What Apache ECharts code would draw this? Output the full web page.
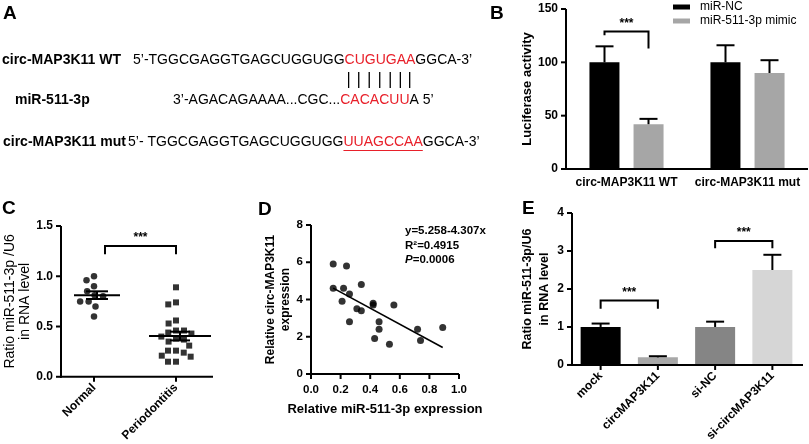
<!DOCTYPE html>
<html><head><meta charset="utf-8">
<script src="https://cdn.jsdelivr.net/npm/echarts@6/dist/echarts.min.js"></script>
<style>html,body{margin:0;padding:0;background:#fff}#c{width:809px;height:444px}</style>
</head><body><div id="c"></div>
<script>
// ---------------- DATA ----------------
const aLabels = ['circ-MAP3K11 WT', 'miR-511-3p', 'circ-MAP3K11 mut'];
const aPre = ['5’-TGGCGAGGTGAGCUGGUGG', '3’-AGACAGAAAA...CGC...', '5’- TGGCGAGGTGAGCUGGUGG'];
const aRed = ['CUGUGAA', 'CACACUU', 'UUAGCCAA'];
const aPost = ['GGCA-3’', 'A 5’', 'GGCA-3’'];

const bCategories = ['circ-MAP3K11 WT', 'circ-MAP3K11 mut'];
const bSeriesNames = ['miR-NC', 'miR-511-3p mimic'];
const bNC = [100, 100];
const bNCErrTop = [115, 116];
const bMimic = [42, 90];
const bMimicErrTop = [47, 102];
const bYTicks = [0, 50, 100, 150];

const cCategories = ['Normal', 'Periodontitis'];
const cNormal = [1.00, 0.96, 0.90, 0.85, 0.81, 0.80, 0.75, 0.75, 0.70, 0.60];
const cPerio = [0.89, 0.74, 0.72, 0.56, 0.53, 0.46, 0.46, 0.44, 0.43, 0.40, 0.38, 0.37, 0.35, 0.31, 0.26, 0.26, 0.24, 0.21, 0.20, 0.15, 0.15];
const cYTicks = [0, 0.5, 1.0, 1.5];

const dX = [0.15, 0.24, 0.15, 0.22, 0.26, 0.21, 0.34, 0.31, 0.34, 0.26, 0.42, 0.42, 0.56, 0.46, 0.46, 0.43, 0.53, 0.72, 0.74, 0.89];
const dY = [5.9, 5.8, 4.6, 4.6, 4.3, 3.9, 4.8, 3.5, 3.4, 2.8, 3.8, 3.7, 3.7, 2.8, 2.4, 1.9, 1.6, 2.4, 1.8, 2.5];
const dTrend = [[0.15, 4.61], [0.89, 1.42]];
const dStats = ['y=5.258-4.307x', 'R²=0.4915', '=0.0006'];
const dXTicks = [0, 0.2, 0.4, 0.6, 0.8, 1.0];
const dYTicks = [0, 2, 4, 6, 8];

const eCategories = ['mock', 'circMAP3K11', 'si-NC', 'si-circMAP3K11'];
const eValues = [1.0, 0.2, 1.0, 2.5];
const eErrTop = [1.09, 0.23, 1.14, 2.9];
const eYTicks = [0, 1, 2, 3, 4];

// ---------------- STYLE / LAYOUT ----------------
const FONT = '"Liberation Sans", Arial, Helvetica, sans-serif';
const RED = '#e8202a';
const AXIS_COLOR = '#000';
const bColors = ['#000000', '#a6a6a6'];
const eColors = ['#000000', '#a8a8a8', '#858585', '#d6d6d6'];
const gridRects = [[566, 9, 242, 160], [53, 226, 164, 152], [311, 225, 148, 149], [572, 213, 229, 153]];

function axisBase(extra) {
  const a = {
    axisLine: { show: false },
    axisTick: { show: false },
    axisLabel: { color: '#000', fontWeight: 'bold', fontSize: 12, fontFamily: FONT },
    splitLine: { show: false },
    nameTextStyle: { color: '#000', fontFamily: FONT }
  };
  for (const k in extra) {
    if (a[k] && typeof a[k] === 'object' && typeof extra[k] === 'object' && !Array.isArray(extra[k])) {
      a[k] = Object.assign({}, a[k], extra[k]);
    } else a[k] = extra[k];
  }
  return a;
}
function errRender(offset, capHalf) {
  return function (params, api) {
    const cat = api.value(0);
    const base = api.coord([cat, api.value(1)]);
    const top = api.coord([cat, api.value(2)]);
    const x = base[0] + offset;
    return { type: 'group', children: [
      { type: 'line', shape: { x1: x, y1: base[1], x2: x, y2: top[1] }, style: { stroke: '#000', lineWidth: 2 } },
      { type: 'line', shape: { x1: x - capHalf, y1: top[1], x2: x + capHalf, y2: top[1] }, style: { stroke: '#000', lineWidth: 2 } }
    ]};
  };
}
function meanSem(arr) {
  const n = arr.length;
  const m = arr.reduce((s, v) => s + v, 0) / n;
  const sd = Math.sqrt(arr.reduce((s, v) => s + (v - m) * (v - m), 0) / (n - 1));
  return [m, sd / Math.sqrt(n)];
}
const cStats = [[0].concat(meanSem(cNormal)), [1].concat(meanSem(cPerio))];
const meanHalf = [23, 31], semHalf = [11, 10];

// axis frame drawn by a custom series, using the grid's own coordinate system
// [yAxis x shift, x-axis right extension, y ticks, x ticks]
const axisFrames = [
  [0, 0, bYTicks, null],
  [8, -4, cYTicks, [0, 1]],
  [0, 0, dYTicks, dXTicks],
  [0, 2, eYTicks, [0, 1, 2, 3]]
];
function frameSeries(i) {
  const [sx, ext, yT, xT] = axisFrames[i];
  return {
    type: 'custom', xAxisIndex: i, yAxisIndex: i, z: 20, clip: false, silent: true,
    data: [[0]], encode: { x: [], y: [] },
    renderItem: function (params, api) {
      const cs = params.coordSys;
      const ax = cs.x + sx, top = cs.y, bot = cs.y + cs.height, right = cs.x + cs.width + ext;
      const st = { stroke: AXIS_COLOR, lineWidth: 2 };
      const ch = [
        { type: 'line', shape: { x1: ax, y1: top, x2: ax, y2: bot + 1 }, style: st },
        { type: 'line', shape: { x1: ax - 1, y1: bot, x2: right, y2: bot }, style: st }
      ];
      yT.forEach(v => {
        const y = api.coord([0, v])[1];
        ch.push({ type: 'line', shape: { x1: ax - 5, y1: y, x2: ax, y2: y }, style: st });
      });
      if (xT) xT.forEach(v => {
        const x = api.coord([v, 0])[0];
        ch.push({ type: 'line', shape: { x1: x, y1: bot, x2: x, y2: bot + 5 }, style: st });
      });
      return { type: 'group', children: ch };
    }
  };
}

const chart = echarts.init(document.getElementById('c'));
const option = {
  animation: false,
  backgroundColor: '#fff',
  textStyle: { fontFamily: FONT },
  legend: {
    data: bSeriesNames, orient: 'vertical', left: 673, top: 0, padding: 0,
    itemWidth: 17, itemHeight: 5, itemGap: 0, icon: 'rect',
    textStyle: { fontSize: 12, color: '#000', fontFamily: FONT, lineHeight: 14, padding: [0, 0, 0, 5] }
  },
  grid: gridRects.map(r => ({ left: r[0], top: r[1], width: r[2], height: r[3] })),
  xAxis: [
    axisBase({ type: 'category', gridIndex: 0, data: bCategories, axisLabel: { margin: 8, fontSize: 12, interval: 0 } }),
    axisBase({ type: 'category', gridIndex: 1, data: cCategories, jitter: 46, jitterOverlap: false, jitterMargin: 2,
      axisLabel: { rotate: 45, margin: 9, interval: 0 } }),
    axisBase({ type: 'value', gridIndex: 2, min: 0, max: 1, interval: 0.2,
      axisLabel: { formatter: v => v.toFixed(1), margin: 10, fontSize: 11.5 },
      name: 'Relative miR-511-3p expression', nameLocation: 'middle', nameGap: 29,
      nameTextStyle: { fontWeight: 'bold', fontSize: 13 } }),
    axisBase({ type: 'category', gridIndex: 3, data: eCategories, axisLabel: { rotate: 45, margin: 9, interval: 0 } })
  ],
  yAxis: [
    axisBase({ type: 'value', gridIndex: 0, min: 0, max: 150, interval: 50, axisLabel: { margin: 8 },
      name: 'Luciferase activity', nameLocation: 'middle', nameGap: 25,
      nameTextStyle: { fontWeight: 'bold', fontSize: 13 } }),
    axisBase({ type: 'value', gridIndex: 1, min: 0, max: 1.5, interval: 0.5, offset: -8,
      axisLabel: { formatter: v => v.toFixed(1), margin: 8 },
      name: 'Ratio miR-511-3p /U6\nin RNA level', nameLocation: 'middle', nameGap: 21,
      nameTextStyle: { fontSize: 14, lineHeight: 15 } }),
    axisBase({ type: 'value', gridIndex: 2, min: 0, max: 8, interval: 2, axisLabel: { margin: 8, fontSize: 11.5 },
      name: 'Relative circ-MAP3K11\nexpression', nameLocation: 'middle', nameGap: 13,
      nameTextStyle: { fontWeight: 'bold', fontSize: 12, lineHeight: 15 } }),
    axisBase({ type: 'value', gridIndex: 3, min: 0, max: 4, interval: 1, axisLabel: { margin: 8 },
      name: 'Ratio miR-511-3p/U6\nin RNA level', nameLocation: 'middle', nameGap: 8,
      nameTextStyle: { fontWeight: 'bold', fontSize: 12.5, lineHeight: 17 } })
  ],
  series: [
    { name: bSeriesNames[0], type: 'bar', xAxisIndex: 0, yAxisIndex: 0, data: bNC, barWidth: 30, barGap: '47%', itemStyle: { color: bColors[0] } },
    { name: bSeriesNames[1], type: 'bar', xAxisIndex: 0, yAxisIndex: 0, data: bMimic, barWidth: 30, barGap: '47%', itemStyle: { color: bColors[1] } },
    { type: 'custom', xAxisIndex: 0, yAxisIndex: 0, z: 5, encode: { x: 0, y: [1, 2] },
      data: bNC.map((v, i) => [i, v, bNCErrTop[i]]), renderItem: errRender(-22, 9) },
    { type: 'custom', xAxisIndex: 0, yAxisIndex: 0, z: 5, encode: { x: 0, y: [1, 2] },
      data: bMimic.map((v, i) => [i, v, bMimicErrTop[i]]), renderItem: errRender(22, 9) },
    { type: 'scatter', xAxisIndex: 1, yAxisIndex: 1, symbol: 'circle', symbolSize: 6.5, itemStyle: { color: '#000' }, data: cNormal.map(v => [0, v]) },
    { type: 'scatter', xAxisIndex: 1, yAxisIndex: 1, symbol: 'rect', symbolSize: 6, itemStyle: { color: '#000' }, data: cPerio.map(v => [1, v]) },
    { type: 'custom', xAxisIndex: 1, yAxisIndex: 1, z: 6, encode: { x: 0, y: 1 }, data: cStats,
      renderItem: function (params, api) {
        const i = api.value(0), m = api.value(1), s = api.value(2);
        const pm = api.coord([i, m]), ph = api.coord([i, m + s]), pl = api.coord([i, m - s]);
        const x = pm[0] + (i === 0 ? 3 : 4);
        const st = { stroke: '#000', lineWidth: 2 };
        return { type: 'group', children: [
          { type: 'line', shape: { x1: x - meanHalf[i], y1: pm[1], x2: x + meanHalf[i], y2: pm[1] }, style: st },
          { type: 'line', shape: { x1: x - semHalf[i], y1: ph[1], x2: x + semHalf[i], y2: ph[1] }, style: st },
          { type: 'line', shape: { x1: x - semHalf[i], y1: pl[1], x2: x + semHalf[i], y2: pl[1] }, style: st },
          { type: 'line', shape: { x1: x, y1: ph[1], x2: x, y2: pl[1] }, style: st }
        ]};
      } },
    { type: 'scatter', xAxisIndex: 2, yAxisIndex: 2, symbol: 'circle', symbolSize: 7, itemStyle: { color: '#000' }, data: dX.map((x, i) => [x, dY[i]]) },
    { type: 'line', xAxisIndex: 2, yAxisIndex: 2, data: dTrend, showSymbol: false, symbol: 'none', lineStyle: { color: '#000', width: 1.6 } },
    { type: 'bar', xAxisIndex: 3, yAxisIndex: 3, barWidth: 40, data: eValues.map((v, i) => ({ value: v, itemStyle: { color: eColors[i] } })) },
    { type: 'custom', xAxisIndex: 3, yAxisIndex: 3, z: 5, encode: { x: 0, y: [1, 2] },
      data: eValues.map((v, i) => [i, v, eErrTop[i]]), renderItem: errRender(0, 9) },
    frameSeries(0), frameSeries(1), frameSeries(2), frameSeries(3)
  ]
};
chart.setOption(option);

// ---------------- ANNOTATIONS ----------------
const g = [];
const letterFont = 'bold 19px ' + FONT;
[['A', 3, 14], ['B', 490, 14], ['C', 2, 209], ['D', 258, 210], ['E', 522, 209]].forEach(([t, x, y]) => {
  g.push({ type: 'text', x: x, y: y, style: { text: t, font: letterFont, fill: '#000', verticalAlign: 'middle' } });
});
const seqFont = '14px ' + FONT;
const lblFont = 'bold 14px ' + FONT;
const aLabelX = [2, 15, 3], aSeqX = [133, 173, 128], aRowY = [60, 100, 142];
const ctx = document.createElement('canvas').getContext('2d');
ctx.font = seqFont;
const mw = s => ctx.measureText(s).width;
for (let r = 0; r < 3; r++) {
  g.push({ type: 'text', x: aLabelX[r], y: aRowY[r], style: { text: aLabels[r], font: lblFont, fill: '#000', verticalAlign: 'middle' } });
  g.push({ type: 'text', x: aSeqX[r], y: aRowY[r], style: {
    text: aPre[r] + '{r|' + aRed[r] + '}' + aPost[r], font: seqFont, fill: '#000', verticalAlign: 'middle',
    rich: { r: { fill: RED, font: seqFont } } } });
}
for (let i = 0; i < aRed[0].length; i++) {
  const x = aSeqX[0] + mw(aPre[0] + aRed[0].slice(0, i)) + mw(aRed[0][i]) / 2 - 1;
  g.push({ type: 'line', shape: { x1: x, y1: 72, x2: x, y2: 88 }, style: { stroke: '#000', lineWidth: 1.3 } });
}
{
  const x1 = aSeqX[2] + mw(aPre[2]);
  const x2 = x1 + mw(aRed[2]);
  g.push({ type: 'line', shape: { x1: x1, y1: 150.5, x2: x2, y2: 150.5 }, style: { stroke: RED, lineWidth: 1 } });
}
const brackets = [
  [0, 0, -22, 0, 22, 129, 125.5, 113],
  [1, 0, 11, 1, 0, 1.30, 1.22, 1.22],
  [3, 0, 0, 1, 0, 1.70, 1.48, 1.48],
  [3, 2, 0, 3, 0, 3.26, 3.07, 3.07]
];
brackets.forEach(([ax, c1, d1, c2, d2, top, l1, l2]) => {
  const f = { xAxisIndex: ax, yAxisIndex: ax };
  const p1 = chart.convertToPixel(f, [c1, top]);
  const p2 = chart.convertToPixel(f, [c2, top]);
  const y1 = chart.convertToPixel(f, [c1, l1])[1];
  const y2 = chart.convertToPixel(f, [c2, l2])[1];
  const x1 = p1[0] + d1, x2 = p2[0] + d2;
  g.push({ type: 'polyline', shape: { points: [[x1, y1], [x1, p1[1]], [x2, p1[1]], [x2, y2]] },
    style: { stroke: '#000', lineWidth: 2, fill: null } });
  g.push({ type: 'text', x: (x1 + x2) / 2, y: p1[1] - 8, style: { text: '***', font: 'bold 12px ' + FONT,
    fill: '#000', align: 'center', verticalAlign: 'middle' } });
});
const statFont = 'bold 11.5px ' + FONT;
g.push({ type: 'text', x: 405, y: 231, style: { text: dStats[0], font: statFont, fill: '#000', verticalAlign: 'middle' } });
g.push({ type: 'text', x: 405, y: 246, style: { text: dStats[1], font: statFont, fill: '#000', verticalAlign: 'middle' } });
g.push({ type: 'text', x: 405, y: 260, style: { text: '{i|P}' + dStats[2], font: statFont, fill: '#000', verticalAlign: 'middle',
  rich: { i: { font: 'italic bold 11.5px ' + FONT, fill: '#000' } } } });
chart.setOption({ graphic: g });
</script></body></html>
